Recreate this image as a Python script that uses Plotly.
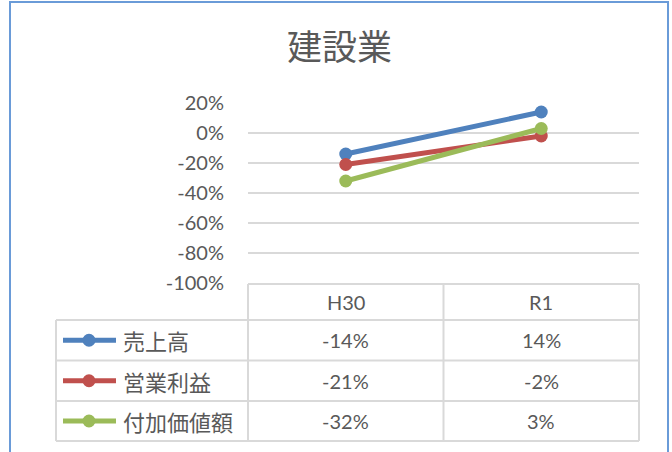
import plotly.graph_objects as go

# ---- data ----
categories = ["H30", "R1"]
series_names = ["売上高", "営業利益", "付加価値額"]
sales = [-0.14, 0.14]
operating_profit = [-0.21, -0.02]
value_added = [-0.32, 0.03]
series_values = [sales, operating_profit, value_added]
series_colors = ["#4F81BD", "#C0504D", "#9BBB59"]
y_tick_values = [-1.0, -0.8, -0.6, -0.4, -0.2, 0.0, 0.2]
y_tick_labels = ["-100%", "-80%", "-60%", "-40%", "-20%", "0%", "20%"]
title_text = "建設業"

W, H = 672, 452


def px(x):
    return x / W


def py(y):
    return 1 - y / H


def pct(v):
    return f"{round(v * 100):d}%"


GRID = "#D9D9D9"
TXT = "#595959"
JP = "Noto Sans CJK JP, sans-serif"
NUM = "Lato, Noto Sans, sans-serif"

# plot area geometry (pixels)
PL, PR = 248, 639
PT, PB = 103, 283
TABLE_LEFT = 56
HEADER_TOP = 284
ROW_TOPS = [320, 360.5, 401]
TABLE_BOTTOM = 441

fig = go.Figure()
for name, vals, col in zip(series_names, series_values, series_colors):
    fig.add_trace(go.Scatter(
        x=categories, y=vals, name=name, mode="lines+markers",
        line=dict(color=col, width=5),
        marker=dict(color=col, size=13),
        showlegend=False, hoverinfo="skip",
    ))

shapes = []
annotations = []

# chart border
shapes.append(dict(type="rect", xref="paper", yref="paper",
                   x0=px(10), x1=px(668), y0=py(2), y1=py(470),
                   line=dict(color="#6A9BD8", width=2), fillcolor="rgba(0,0,0,0)", layer="below"))

line_style = dict(color=GRID, width=2)
shapes.append(dict(type="line", xref="paper", yref="paper", x0=px(PL), x1=px(PR),
                   y0=py(HEADER_TOP), y1=py(HEADER_TOP), line=line_style))
for yy in ROW_TOPS + [TABLE_BOTTOM]:
    shapes.append(dict(type="line", xref="paper", yref="paper", x0=px(TABLE_LEFT), x1=px(PR),
                       y0=py(yy), y1=py(yy), line=line_style))
for xx in [PL, (PL + PR) / 2, PR]:
    shapes.append(dict(type="line", xref="paper", yref="paper", x0=px(xx), x1=px(xx),
                       y0=py(HEADER_TOP), y1=py(TABLE_BOTTOM), line=line_style))
shapes.append(dict(type="line", xref="paper", yref="paper", x0=px(TABLE_LEFT), x1=px(TABLE_LEFT),
                   y0=py(ROW_TOPS[0]), y1=py(TABLE_BOTTOM), line=line_style))

header_center = (HEADER_TOP + ROW_TOPS[0]) / 2
for c in categories:
    annotations.append(dict(x=c, xref="x", y=py(header_center), yref="paper",
                            text=c, showarrow=False, font=dict(family=NUM, size=20, color=TXT),
                            xanchor="center", yanchor="middle"))

row_bottoms = ROW_TOPS[1:] + [TABLE_BOTTOM]
for i, (name, vals, col) in enumerate(zip(series_names, series_values, series_colors)):
    cy = (ROW_TOPS[i] + row_bottoms[i]) / 2
    shapes.append(dict(type="line", xref="paper", yref="paper", x0=px(63), x1=px(116),
                       y0=py(cy), y1=py(cy), line=dict(color=col, width=5)))
    shapes.append(dict(type="circle", xref="paper", yref="paper",
                       x0=px(89 - 6.5), x1=px(89 + 6.5), y0=py(cy - 6.5), y1=py(cy + 6.5),
                       fillcolor=col, line=dict(color=col, width=0)))
    annotations.append(dict(x=px(121), xref="paper", y=py(cy), yref="paper",
                            text=name, showarrow=False, font=dict(family=JP, size=22, color=TXT),
                            xanchor="left", yanchor="middle"))
    for c, v in zip(categories, vals):
        annotations.append(dict(x=c, xref="x", y=py(cy), yref="paper",
                                text=pct(v), showarrow=False, font=dict(family=NUM, size=20, color=TXT),
                                xanchor="center", yanchor="middle"))

annotations.append(dict(x=px(339), xref="paper", y=py(44), yref="paper", text=title_text,
                        showarrow=False, font=dict(family=JP, size=35, color=TXT),
                        xanchor="center", yanchor="middle"))

fig.update_layout(
    template="none",
    width=W, height=H,
    margin=dict(l=0, r=0, t=0, b=0, pad=0, autoexpand=False),
    paper_bgcolor="white", plot_bgcolor="white",
    shapes=shapes, annotations=annotations,
    xaxis=dict(type="category", categoryorder="array", categoryarray=categories,
               range=[-0.5, 1.5], domain=[px(PL), px(PR)], automargin=False,
               showgrid=False, showticklabels=False, zeroline=False, showline=False, ticks=""),
    yaxis=dict(range=[-1.0, 0.2], domain=[py(PB), py(PT)], automargin=False,
               tickvals=y_tick_values, ticktext=y_tick_labels,
               showgrid=True, gridcolor=GRID, gridwidth=2, zeroline=False, showline=False,
               ticks="", ticklabelstandoff=23,
               tickfont=dict(family=NUM, size=20, color=TXT)),
)

fig.write_html("out.html", config={"displayModeBar": False},
               post_script="document.body.style.margin='0';document.body.style.overflow='hidden';")
